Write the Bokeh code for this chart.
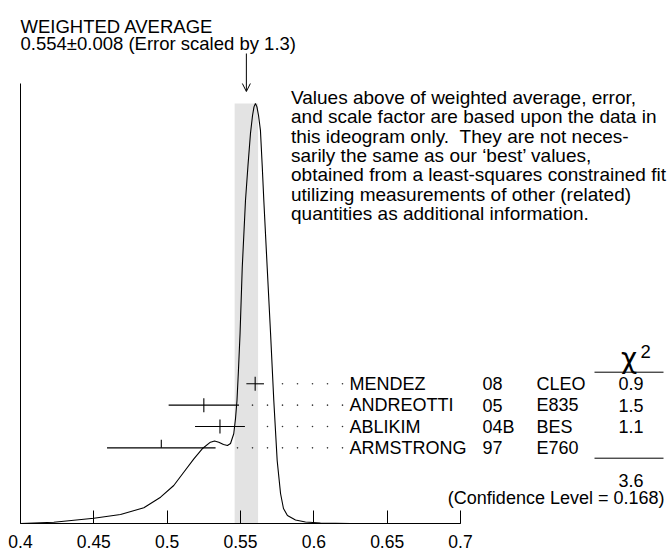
from bokeh.plotting import figure
from bokeh.models import Range1d, FixedTicker, Arrow, OpenHead, ColumnDataSource
from bokeh.core.properties import value
from bokeh.embed import file_html
from bokeh.resources import INLINE

# ---------------- data ----------------
names = ["MENDEZ", "ANDREOTTI", "ABLIKIM", "ARMSTRONG"]
years = ["08", "05", "04B", "97"]
experiments = ["CLEO", "E835", "BES", "E760"]
values = [0.560, 0.525, 0.536, 0.496]
errors = [0.006, 0.024, 0.017, 0.037]
chi2 = ["0.9", "1.5", "1.1", ""]
used = [True, True, True, False]

avg_value = 0.554
avg_error = 0.008
scale_factor = 1.3
chi2_total = "3.6"
conf_level = "0.168"

tick_values = [0.4, 0.45, 0.5, 0.55, 0.6, 0.65, 0.7]
tick_labels = ["0.4", "0.45", "0.5", "0.55", "0.6", "0.65", "0.7"]

# ideogram curve (peak normalised to 1)
curve_x = [0.4000, 0.4227, 0.4500, 0.4682, 0.4841, 0.4955, 0.5045, 0.5113, 0.5182,
           0.5239, 0.5295, 0.5323, 0.5352, 0.5384, 0.5411, 0.5432, 0.5454, 0.5466,
           0.5476, 0.5486, 0.5497, 0.5512, 0.5534, 0.5551, 0.5568, 0.5582, 0.5592,
           0.5602, 0.5612, 0.5623, 0.5636, 0.5648, 0.5659, 0.5682, 0.5705, 0.5727,
           0.5750, 0.5773, 0.5793, 0.5820, 0.5875, 0.5943, 0.6045, 0.6250, 0.7000]
curve_y = [0.0000, 0.0031, 0.0126, 0.0214, 0.0374, 0.0626, 0.0905, 0.1221, 0.1540,
           0.1779, 0.1936, 0.1964, 0.1936, 0.1881, 0.1857, 0.1905, 0.2136, 0.2500,
           0.2929, 0.3643, 0.4524, 0.6102, 0.7690, 0.8524, 0.9286, 0.9714, 0.9920,
           1.0000, 0.9920, 0.9714, 0.9357, 0.8524, 0.7690, 0.6095, 0.4524, 0.2929,
           0.1500, 0.0714, 0.0357, 0.0190, 0.0083, 0.0036, 0.0012, 0.0000, 0.0000]

body_lines = [
    "Values above of weighted average, error,",
    "and scale factor are based upon the data in",
    "this ideogram only. \u00a0They are not neces-",
    "sarily the same as our \u2018best\u2019 values,",
    "obtained from a least-squares constrained fit",
    "utilizing measurements of other (related)",
    "quantities as additional information.",
]

# ---------------- layout helpers (pixel -> data) ----------------
PXX = 0.3 / 440.0      # data units per pixel, x
PXY = 1.0 / 420.0      # data units per pixel, y


def px2x(px):
    return 0.4 + (px - 20) * PXX


def py2y(py):
    return (523 - py) * PXY


FONT = value("Liberation Sans")

p = figure(width=670, height=555, output_backend="svg", toolbar_location=None,
           x_range=Range1d(px2x(0), px2x(670)), y_range=Range1d(py2y(555), py2y(0)),
           min_border=0, y_axis_location=None)
p.outline_line_color = None
p.grid.visible = False

# bottom axis
ax = p.xaxis[0]
ax.fixed_location = 0
ax.bounds = (tick_values[0], tick_values[-1])
ax.ticker = FixedTicker(ticks=tick_values)
ax.major_label_overrides = {t: l for t, l in zip(tick_values, tick_labels)}
ax.major_tick_in = 13
ax.major_tick_out = 0
ax.minor_tick_line_color = None
ax.axis_line_color = "black"
ax.major_tick_line_color = "black"
ax.axis_line_width = 1
ax.major_label_text_font = "Liberation Sans"
ax.major_label_text_font_size = "17.5px"
ax.major_label_text_color = "black"
ax.major_label_standoff = 11

# left vertical line
p.segment(x0=[tick_values[0]], x1=[tick_values[0]], y0=[0], y1=[py2y(83)],
          line_color="black", line_width=1)

# weighted average band
peak = max(curve_y)
p.quad(left=[avg_value - avg_error], right=[avg_value + avg_error], bottom=[0], top=[peak],
       fill_color="#e3e3e3", line_color=None)

# ideogram curve
p.line(curve_x, curve_y, line_color="black", line_width=1.1)

# measurements
row0 = py2y(383.3)
row_step = 21.35 * PXY
rows = [row0 - i * row_step for i in range(len(names))]

p.segment(x0=[v - e for v, e in zip(values, errors)], x1=[v + e for v, e in zip(values, errors)],
          y0=rows, y1=rows, line_color="black", line_width=1.1)
tick_y0 = [r - (7 * PXY if u else 0) for r, u in zip(rows, used)]
tick_y1 = [r + (7 * PXY if u else 8 * PXY) for r, u in zip(rows, used)]
p.segment(x0=values, x1=values, y0=tick_y0, y1=tick_y1, line_color="black", line_width=1.1)

# dotted leaders
dot_x, dot_y = [], []
grid = [px2x(342 - 15 * k) for k in range(8)]
for v, e, r in zip(values, errors, rows):
    for gx in grid:
        if gx > v + e + 10 * PXX:
            dot_x.append(gx)
            dot_y.append(r)
p.scatter(dot_x, dot_y, marker="circle", size=1.6, fill_color="#333333", line_color=None)

# table
src = ColumnDataSource(dict(y=rows, name=names, year=years, exp=experiments, chi=chi2))
common = dict(source=src, y="y", text_font=FONT, text_font_size="18px",
              text_color="black", text_baseline="middle")
p.text(x=px2x(349), text="name", text_align="left", **common)
p.text(x=px2x(482), text="year", text_align="left", **common)
p.text(x=px2x(536), text="exp", text_align="left", **common)
p.text(x=px2x(630.5), text="chi", text_align="center", **common)

# chi^2 header and rules
p.text(x=[px2x(628.5)], y=[py2y(358)], text=["\u03c7"], text_font=value("DejaVu Sans"),
       text_font_size="28px", text_align="center", text_baseline="alphabetic",
       text_color="black")
p.text(x=[px2x(640)], y=[py2y(351)], text=["2"], text_font=FONT, text_font_size="18.5px",
       text_align="left", text_baseline="alphabetic", text_color="black")
p.segment(x0=[px2x(594), px2x(594)], x1=[px2x(663), px2x(663)],
          y0=[py2y(371.7), py2y(457.7)], y1=[py2y(371.7), py2y(457.7)],
          line_color="black", line_width=1)
p.text(x=[px2x(630.5)], y=[py2y(480)], text=[chi2_total], text_font=FONT, text_font_size="18px",
       text_align="center", text_baseline="middle", text_color="black")
p.text(x=[px2x(664)], y=[py2y(497.7)], text=["(Confidence Level = %s)" % conf_level],
       text_font=FONT, text_font_size="18px", text_align="right", text_baseline="middle",
       text_color="black")

# header
p.text(x=[px2x(20), px2x(20)], y=[py2y(26), py2y(43)],
       text=["WEIGHTED AVERAGE",
             "%.3f\u00b1%.3f (Error scaled by %.1f)" % (avg_value, avg_error, scale_factor)],
       text_font=FONT, text_font_size="18.5px", text_align="left", text_baseline="alphabetic",
       text_color="black")

# arrow to the average
p.add_layout(Arrow(end=OpenHead(size=8, line_width=1, line_color="black"),
                   x_start=avg_value, y_start=py2y(53), x_end=avg_value, y_end=py2y(91),
                   line_color="black", line_width=1))

# explanatory text
p.text(x=[px2x(290.5)] * len(body_lines), y=[py2y(96.7 + 19.43 * i) for i in range(len(body_lines))],
       text=body_lines, text_font=FONT, text_font_size="19px", text_align="left",
       text_baseline="middle", text_color="black")

open("out.html", "w").write(file_html(p, INLINE))
